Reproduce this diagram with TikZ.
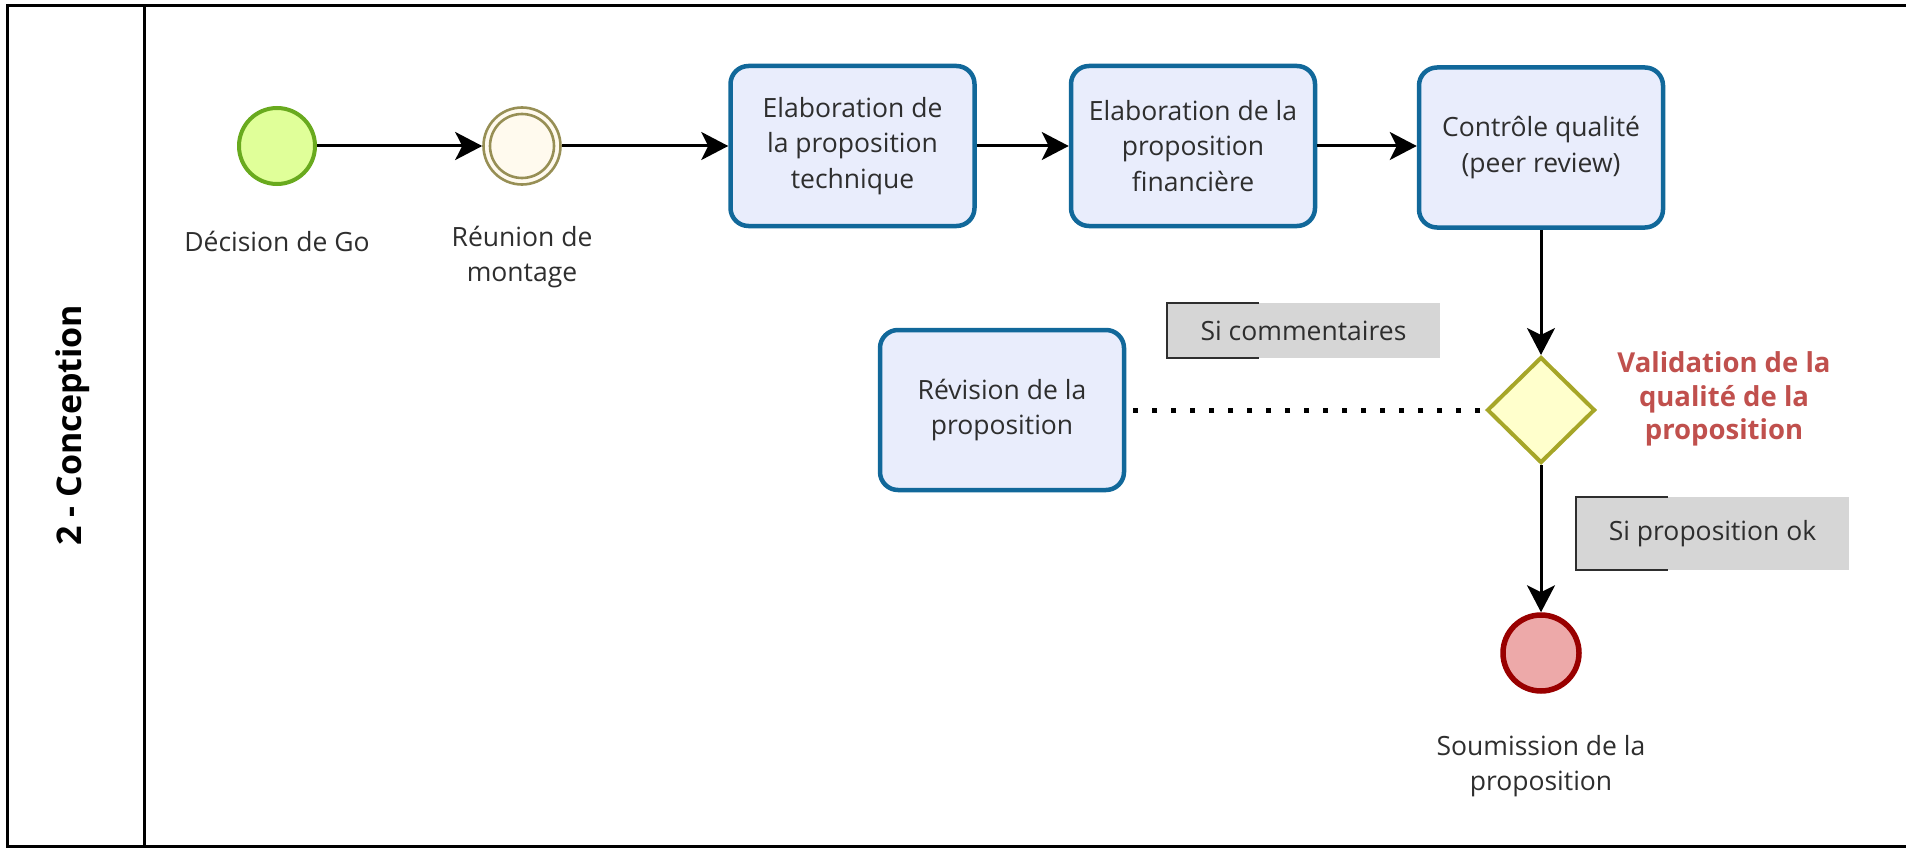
\documentclass[tikz,border=0pt]{standalone}
\usepackage{fontspec}
\setmainfont{Open Sans}
\usetikzlibrary{arrows.meta,shapes.geometric}
\definecolor{taskblue}{HTML}{11689A}
\definecolor{taskfill}{HTML}{E9EDFC}
\definecolor{txtgray}{HTML}{2E2E2E}
\definecolor{startline}{HTML}{69AA1E}
\definecolor{startfill}{HTML}{E0FF99}
\definecolor{interline}{HTML}{978F55}
\definecolor{interfill}{HTML}{FFFAEE}
\definecolor{endline}{HTML}{990000}
\definecolor{endfill}{HTML}{EDA9A9}
\definecolor{gwline}{HTML}{A6A628}
\definecolor{gwfill}{HTML}{FFFFCC}
\definecolor{annfill}{HTML}{D6D6D6}
\definecolor{valred}{HTML}{C0504D}
\tikzset{
  txt/.style={font=\fontsize{26.5}{35.5}\selectfont, text=txtgray, align=center},
  task/.style={txt, rectangle, rounded corners=18pt, draw=taskblue, line width=4.5pt, fill=taskfill, minimum width=244pt, minimum height=160pt, inner sep=0pt},
  startev/.style={circle, draw=startline, fill=startfill, line width=4pt, minimum size=76pt, inner sep=0pt},
  interev/.style={circle, draw=interline, fill=interfill, line width=2.6pt, minimum size=77pt, inner sep=0pt},
  endev/.style={circle, draw=endline, fill=endfill, line width=5.5pt, minimum size=76pt, inner sep=0pt},
  gateway/.style={diamond, draw=gwline, fill=gwfill, line width=4pt, minimum width=108pt, minimum height=106pt, inner sep=0pt},
  flow/.style={line width=3pt, -{Stealth[length=27pt, width=28pt, inset=7pt]}},
  assoc/.style={line width=5pt, dash pattern=on 5pt off 14pt},
  annot/.style={txt, fill=annfill, minimum width=273pt, minimum height=55pt, inner sep=0pt},
  bracket/.style={line width=2pt, draw=txtgray},
  frame/.style={line width=3pt, draw=black}
}
\begin{document}
\begin{tikzpicture}[x=1pt,y=-1pt]
\useasboundingbox (0,0) rectangle (1906,848);
% frame
\draw[frame] (1906,6) -- (7,6) -- (7,846) -- (1906,846);
\draw[frame] (144,6) -- (144,846);
\node[rotate=90, font=\fontsize{34}{36}\selectfont\bfseries] (lane) at (73,425) {2 - Conception};

% events
\node[startev] (start) at (277,146) {};
\node[interev] (inter) at (522,146) {};
\draw[interline, line width=2.6pt] (inter.center) circle (32pt);
\node[endev] (end) at (1541,653) {};

% tasks
\node[task] (t1) at (852.5,146) {Elaboration de\\la proposition\\technique};
\node[task] (t2) at (1193,146) {Elaboration de la\\proposition\\financière};
\node[task] (t3) at (1541,147.5) {Contrôle qualité\\(peer review)};
\node[task] (rev) at (1002,410) {Révision de la\\proposition};

% gateway
\node[gateway] (gw) at (1541,410) {};
\node[font=\fontsize{27.5}{33.5}\selectfont\bfseries, text=valred, align=center] (gwlabel) at (1724,399) {Validation de la\\qualité de la\\proposition};

% event labels
\node[txt] (startlabel) at (277,241) {Décision de Go};
\node[txt] (interlabel) at (522,257) {Réunion de\\montage};
\node[txt] (endlabel) at (1541,766) {Soumission de la\\proposition};

% annotations
\node[annot] (ann1) at (1303.5,330.5) {Si commentaires};
\draw[bracket] ([xshift=92pt]ann1.north west) -- (ann1.north west) -- (ann1.south west) -- ([xshift=92pt]ann1.south west);
\node[annot, minimum height=73pt] (ann2) at (1712.5,533.5) {Si proposition ok};
\draw[bracket] ([xshift=92pt]ann2.north west) -- (ann2.north west) -- (ann2.south west) -- ([xshift=92pt]ann2.south west);

% flows
\draw[flow] (start) -- (inter);
\draw[flow] (inter) -- (t1);
\draw[flow] (t1) -- (t2);
\draw[flow] (t2.east) -- (t3.west |- t2.east);
\draw[flow] (t3) -- (gw);
\draw[flow] (gw) -- (end);
\draw[assoc, dash phase=14pt] (gw.west) -- (rev.east);
\end{tikzpicture}
\end{document}
